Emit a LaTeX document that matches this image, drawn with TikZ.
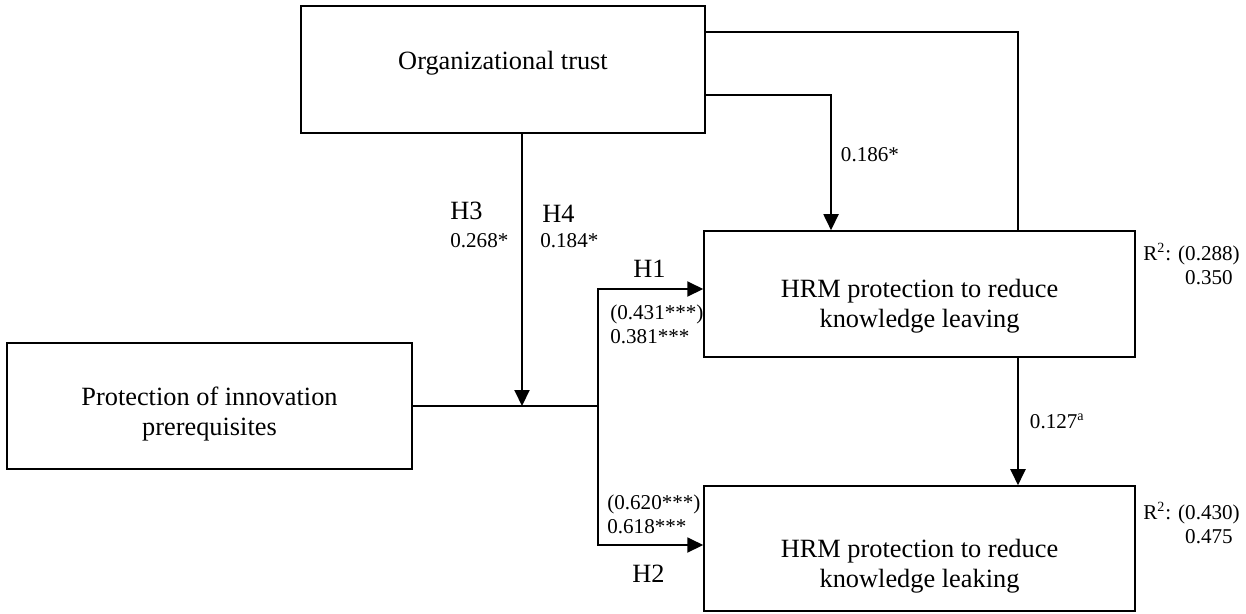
\documentclass[tikz,border=0pt]{standalone}
\usepackage{fontspec}
\setmainfont{Liberation Serif}
\usetikzlibrary{arrows.meta}

\begin{document}
\begin{tikzpicture}[
    x=0.02cm, y=-0.02cm,
    construct/.style={rectangle, draw, line width=0.9pt, align=center, inner sep=0pt,
        font=\fontsize{15}{17}\selectfont},
    hyp/.style={inner sep=0pt, anchor=base west, font=\fontsize{15}{17}\selectfont},
    coef/.style={inner sep=0pt, anchor=base west, align=left,
        font=\fontsize{12}{13.5}\selectfont},
    linestyle/.style={draw, line width=1.1pt},
    arrowstyle/.style={draw, line width=1.1pt, -{Triangle[length=0.32cm, width=0.3cm]}}
]
\useasboundingbox (0,0) rectangle (1246,613);

% constructs
\node (Trust) [construct, minimum width=8.08cm, minimum height=2.54cm,
    text height=0.36cm, text depth=0.36cm] at (503,69.5) {Organizational trust};
\node (Protection) [construct, minimum width=8.1cm, minimum height=2.52cm,
    text height=1.3cm, text depth=0.12cm] at (209.5,406)
    {Protection of innovation\\prerequisites};
\node (Leaving) [construct, minimum width=8.62cm, minimum height=2.52cm,
    text height=1.44cm, text depth=0.12cm] at (919.5,294)
    {HRM protection to reduce\\knowledge leaving};
\node (Leaking) [construct, minimum width=8.62cm, minimum height=2.5cm,
    text height=1.66cm, text depth=0.12cm] at (919.5,548.5)
    {HRM protection to reduce\\knowledge leaking};

\coordinate (Split) at (598,406);
\coordinate (Moderate) at (522,406);

% paths
\draw[linestyle] (Protection.east) -- (Split);
\draw[arrowstyle] (Split) |- ([yshift=0.1cm]Leaving.west);
\draw[arrowstyle] (Split) |- ([yshift=0.07cm]Leaking.west);
\draw[arrowstyle] ([xshift=0.38cm]Trust.south) -- (Moderate);
\draw[linestyle] ([yshift=0.75cm]Trust.east) -| ([xshift=1.97cm]Leaving.north);
\draw[arrowstyle] ([yshift=-0.51cm]Trust.east) -| node (coefTrust) [coef, pos=0.72,
    anchor=west, xshift=0.18cm] {0.186*} ([xshift=-1.77cm]Leaving.north);
\draw[arrowstyle] ([xshift=1.97cm]Leaving.south) -- node (coefLeak) [coef,
    anchor=west, xshift=0.22cm] {0.127\textsuperscript{a}} ([xshift=1.97cm]Leaking.north);

% labels
\node (H3) [hyp] at (450,219) {H3};
\node (coefH3) [coef] at (450,247) {0.268*};
\node (H4) [hyp] at (542,222) {H4};
\node (coefH4) [coef] at (540,247) {0.184*};
\node (H1) [hyp] at (633,277) {H1};
\node (coefH1) [coef] at (610,343) {(0.431***)\\0.381***};
\node (H2) [hyp] at (632,582) {H2};
\node (coefH2) [coef] at (607,533) {(0.620***)\\0.618***};
\node (R2Leaving) [coef] at (1143,284)
    {R\textsuperscript{2}: (0.288)\\\phantom{R\textsuperscript{2}: (}0.350};
\node (R2Leaking) [coef] at (1143,543)
    {R\textsuperscript{2}: (0.430)\\\phantom{R\textsuperscript{2}: (}0.475};

\end{tikzpicture}
\end{document}
